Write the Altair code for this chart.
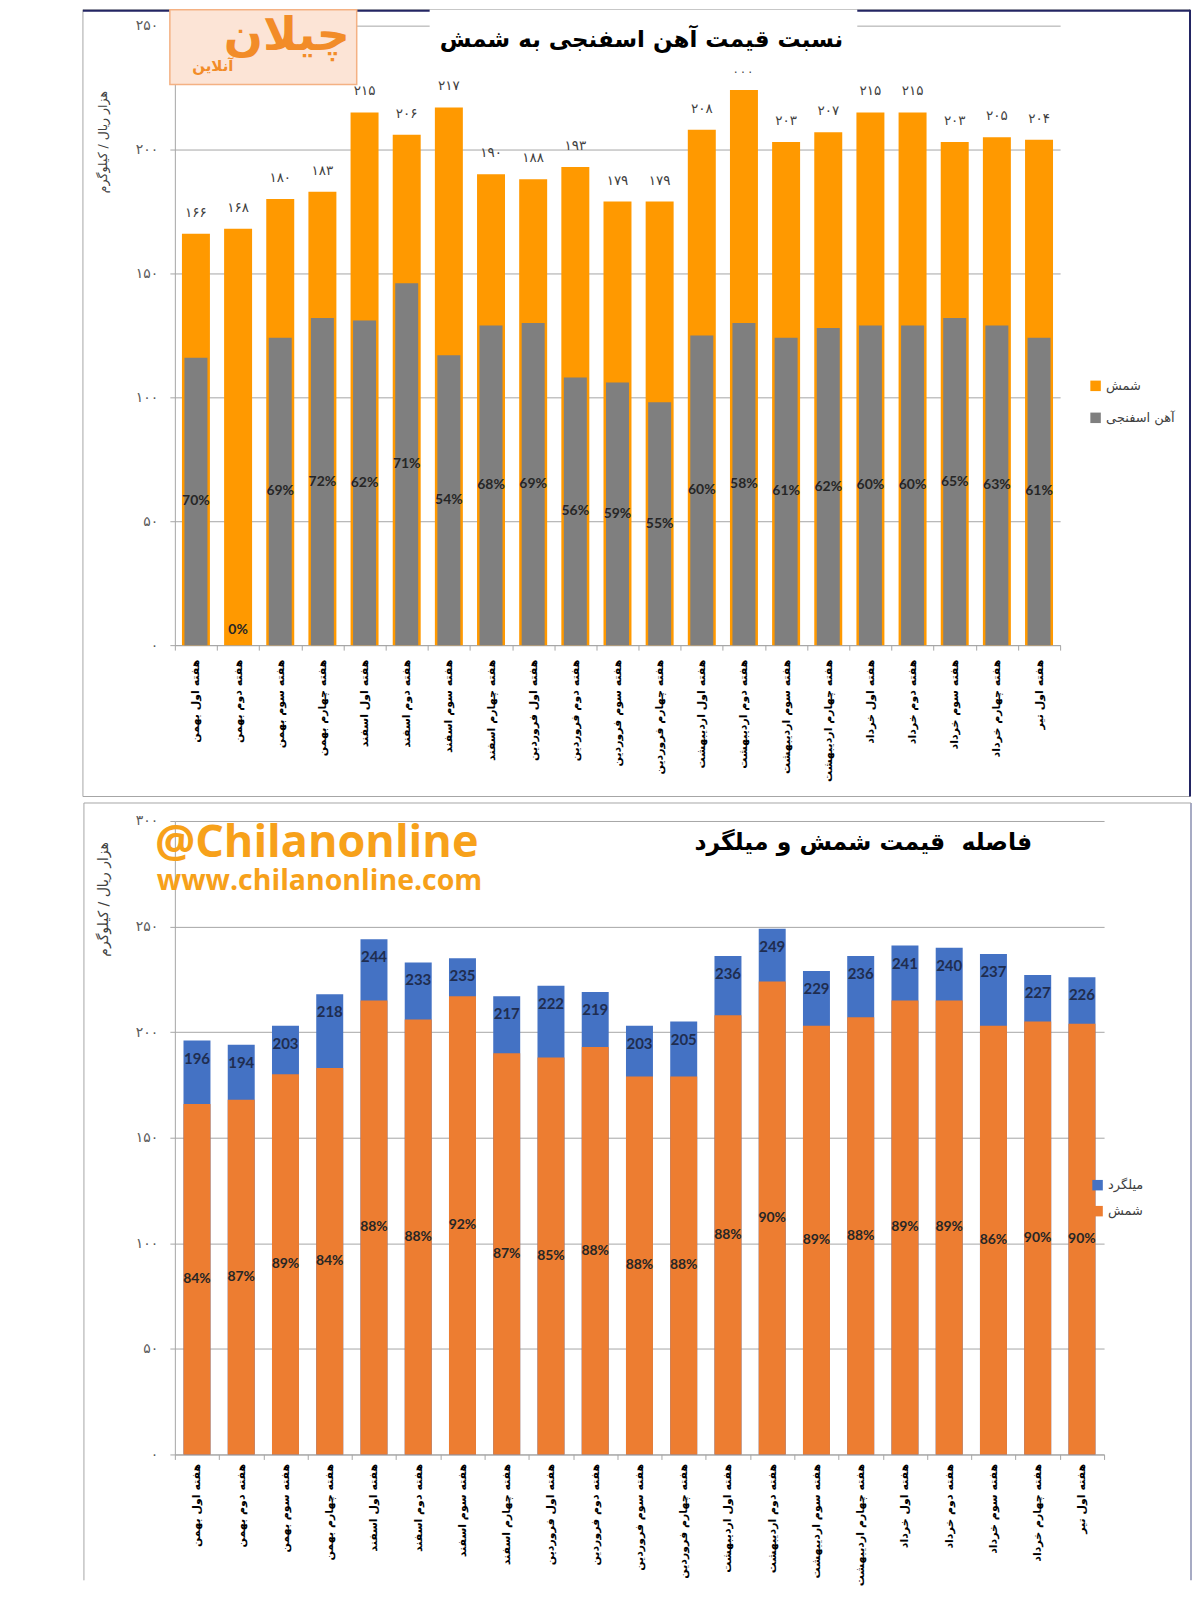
import altair as alt
import pandas as pd

weeks = [
    "هفته اول بهمن", "هفته دوم بهمن", "هفته سوم بهمن", "هفته چهارم بهمن",
    "هفته اول اسفند", "هفته دوم اسفند", "هفته سوم اسفند", "هفته چهارم اسفند",
    "هفته اول فروردین", "هفته دوم فروردین", "هفته سوم فروردین", "هفته چهارم فروردین",
    "هفته اول اردیبهشت", "هفته دوم اردیبهشت", "هفته سوم اردیبهشت", "هفته چهارم اردیبهشت",
    "هفته اول خرداد", "هفته دوم خرداد", "هفته سوم خرداد", "هفته چهارم خرداد",
    "هفته اول تیر",
]
billet = [166, 168, 180, 183, 215, 206, 217, 190, 188, 193, 179, 179, 208, 224, 203, 207, 215, 215, 203, 205, 204]
sponge = [116, 0, 124, 132, 131, 146, 117, 129, 130, 108, 106, 98, 125, 130, 124, 128, 129, 129, 132, 129, 124]
sponge_pct = [70, 0, 69, 72, 62, 71, 54, 68, 69, 56, 59, 55, 60, 58, 61, 62, 60, 60, 65, 63, 61]
rebar = [196, 194, 203, 218, 244, 233, 235, 217, 222, 219, 203, 205, 236, 249, 229, 236, 241, 240, 237, 227, 226]
billet_pct = [84, 87, 89, 84, 88, 88, 92, 87, 85, 88, 88, 88, 88, 90, 89, 88, 89, 89, 86, 90, 90]
y_ticks_top = [0, 50, 100, 150, 200, 250]
y_ticks_bottom = [0, 50, 100, 150, 200, 250, 300]

title_top = "نسبت قیمت آهن اسفنجی به شمش"
title_bottom = "فاصله\u00a0\u00a0قیمت شمش و میلگرد"
y_title = "هزار ریال / کیلوگرم"
s_billet = "شمش"
s_sponge = "آهن اسفنجی"
s_rebar = "میلگرد"

FA = str.maketrans("0123456789", "۰۱۲۳۴۵۶۷۸۹")


def fa(v):
    return str(v).translate(FA)


def fa_expr(ticks):
    e = ""
    for t in ticks:
        e += f"datum.value == {t} ? '{fa(t)}' : "
    return e + "datum.label"


top_df = pd.DataFrame({
    "week": weeks, "billet": billet, "sponge": sponge,
    "total_lab": [fa(v) for v in billet],
    "pct_lab": [f"{p}%" for p in sponge_pct],
})
bot_df = pd.DataFrame({
    "week": weeks, "rebar": rebar, "billet": billet,
    "total_lab": [str(v) for v in rebar],
    "pct_lab": [f"{p}%" for p in billet_pct],
})
one = pd.DataFrame({"a": [0]})

FA_FONT = "DejaVu Sans"
LAT_FONT = "Lato"
GRID = "#A6A6A6"


def x_enc(pad):
    return alt.X(
        "week:N", sort=weeks,
        scale=alt.Scale(paddingInner=0, paddingOuter=0),
        axis=alt.Axis(
            title=None, labelAngle=270, labelFont=FA_FONT, labelFontWeight="bold",
            labelFontSize=11, labelColor="#000000", labelPadding=pad, tickSize=5,
            tickBand="extent", domainColor=GRID, tickColor=GRID, grid=False, labelLimit=250,
        ),
    )


def y_enc(field, domain, ticks, tsize, tx, ty):
    return alt.Y(
        field, scale=alt.Scale(domain=domain, nice=False),
        axis=alt.Axis(
            values=ticks, title=y_title, titleFont=FA_FONT, titleFontSize=tsize,
            titleFontWeight="normal", titleColor="#404040", titleAngle=270,
            titleX=tx, titleY=ty, titleAlign="center", titleBaseline="middle",
            labelExpr=fa_expr(ticks), labelFont=FA_FONT, labelFontSize=14,
            labelColor="#595959", labelPadding=12, tickSize=5, tickColor=GRID,
            domainColor=GRID, gridColor=GRID,
        ),
    )


# ---------------- top panel ----------------
def yt(field):
    return y_enc(field, [0, 250], y_ticks_top, 12.5, -72, 116)


top_scale = alt.Scale(domain=[s_billet, s_sponge], range=["#FF9900", "#7F7F7F"])
top_legend = alt.Legend(
    title=None, orient="none", legendX=915, legendY=354, symbolType="square",
    symbolSize=110, labelFont=FA_FONT, labelFontSize=13, labelColor="#404040",
    rowPadding=18, symbolStrokeWidth=0,
)

t_base = alt.Chart(top_df)
t_orange = t_base.transform_calculate(series=f"'{s_billet}'").mark_bar(width=28).encode(
    x=x_enc(9), y=yt("billet:Q"),
    color=alt.Color("series:N", scale=top_scale, legend=top_legend),
)
t_gray = t_base.transform_calculate(series=f"'{s_sponge}'").mark_bar(width=23).encode(
    x=x_enc(9), y=yt("sponge:Q"),
    color=alt.Color("series:N", scale=top_scale, legend=top_legend),
)
t_tot = t_base.mark_text(dy=-21, font=FA_FONT, fontSize=13.5, color="#404040", baseline="middle").encode(
    x=x_enc(9), y=yt("billet:Q"), text="total_lab:N"
)
t_pct = t_base.transform_calculate(py="datum.sponge / 2 < 6 ? 6 : datum.sponge / 2").mark_text(
    font=LAT_FONT, fontSize=14, fontWeight="bold", color="#262626", baseline="middle"
).encode(x=x_enc(9), y=yt("py:Q"), text="pct_lab:N")

t_panel = alt.Chart(one).mark_rect(fillOpacity=0, stroke="#A6A6A6", strokeWidth=1).encode(
    x=alt.value(-92), x2=alt.value(1016), y=alt.value(-16), y2=alt.value(771.5)
)
t_navy1 = alt.Chart(one).mark_rule(color="#232563", strokeWidth=2).encode(
    x=alt.value(-92), x2=alt.value(255), y=alt.value(-15)
)
t_navy2 = alt.Chart(one).mark_rule(color="#232563", strokeWidth=2).encode(
    x=alt.value(683), x2=alt.value(1016), y=alt.value(-15)
)
t_navy3 = alt.Chart(one).mark_rule(color="#232563", strokeWidth=2).encode(
    x=alt.value(1016), y=alt.value(-16), y2=alt.value(771.5)
)
t_tbox = alt.Chart(one).mark_rect(fill="white").encode(
    x=alt.value(255), x2=alt.value(683), y=alt.value(-16), y2=alt.value(46)
)
t_title = alt.Chart(one).mark_text(
    text=title_top, font=FA_FONT, fontSize=23, fontWeight="bold", color="#000000",
    align="center", baseline="middle",
).encode(x=alt.value(467), y=alt.value(14))
t_logo = alt.Chart(one).mark_rect(fill="#FCE4D6", stroke="#F4B183", strokeWidth=1.5).encode(
    x=alt.value(-5), x2=alt.value(182), y=alt.value(-16), y2=alt.value(59)
)
t_logo1 = alt.Chart(one).mark_text(
    text="چیلان", font=FA_FONT, fontSize=46, fontWeight="bold", color="#F28C28",
    align="center", baseline="middle",
).encode(x=alt.value(112), y=alt.value(10))
t_logo2 = alt.Chart(one).mark_text(
    text="آنلاین", font=FA_FONT, fontSize=15, fontWeight="bold", color="#F28C28",
    align="center", baseline="middle",
).encode(x=alt.value(38), y=alt.value(40))

top = alt.layer(
    t_panel, t_orange, t_gray, t_tot, t_pct, t_tbox, t_title, t_navy1, t_navy2, t_navy3,
    t_logo, t_logo1, t_logo2,
).properties(width=886, height=620)

# ---------------- bottom panel ----------------
def yb(field):
    return y_enc(field, [0, 300], y_ticks_bottom, 14, -71, 78)


bot_scale = alt.Scale(domain=[s_rebar, s_billet], range=["#4472C4", "#ED7D31"])
bot_legend = alt.Legend(
    title=None, orient="none", legendX=917, legendY=358, symbolType="square",
    symbolSize=110, labelFont=FA_FONT, labelFontSize=13, labelColor="#404040",
    rowPadding=12, symbolStrokeWidth=0,
)

b_base = alt.Chart(bot_df)
b_blue = b_base.transform_calculate(series=f"'{s_rebar}'").mark_bar(width=27).encode(
    x=x_enc(4), y=yb("rebar:Q"),
    color=alt.Color("series:N", scale=bot_scale, legend=bot_legend),
)
b_orange = b_base.transform_calculate(series=f"'{s_billet}'").mark_bar(width=27).encode(
    x=x_enc(4), y=yb("billet:Q"),
    color=alt.Color("series:N", scale=bot_scale, legend=bot_legend),
)
b_tot = b_base.mark_text(dy=18, font=LAT_FONT, fontSize=15, fontWeight="bold", color="#1F2D50", baseline="middle").encode(
    x=x_enc(4), y=yb("rebar:Q"), text="total_lab:N"
)
b_pct = b_base.transform_calculate(py="datum.billet / 2").mark_text(
    font=LAT_FONT, fontSize=14, fontWeight="bold", color="#262626", baseline="middle"
).encode(x=x_enc(4), y=yb("py:Q"), text="pct_lab:N")

b_left = alt.Chart(one).mark_rule(color="#A6A6A6", strokeWidth=1).encode(
    x=alt.value(-91), y=alt.value(-18), y2=alt.value(760)
)
b_right = alt.Chart(one).mark_rule(color="#8A8FB0", strokeWidth=1.5).encode(
    x=alt.value(1017), y=alt.value(-18), y2=alt.value(760)
)
b_topl = alt.Chart(one).mark_rule(color="#A6A6A6", strokeWidth=1).encode(
    x=alt.value(-91), x2=alt.value(1017), y=alt.value(-18)
)
b_title = alt.Chart(one).mark_text(
    text=title_bottom, font=FA_FONT, fontSize=23.5, fontWeight="bold", color="#000000",
    align="center", baseline="middle",
).encode(x=alt.value(689), y=alt.value(22))
b_wm1 = alt.Chart(one).mark_text(
    text="@Chilanonline", font="Open Sans", fontSize=45, fontWeight="bold", color="#F7A11A",
    align="left", baseline="middle",
).encode(x=alt.value(-20), y=alt.value(22))
b_wm2 = alt.Chart(one).mark_text(
    text="www.chilanonline.com", font="Open Sans", fontSize=28.5, fontWeight="bold", color="#F7A11A",
    align="left", baseline="middle",
).encode(x=alt.value(-18), y=alt.value(60))

bottom = alt.layer(
    b_left, b_right, b_topl, b_blue, b_orange, b_tot, b_pct, b_title, b_wm1, b_wm2,
).properties(width=930, height=634)

chart = (
    alt.vconcat(top, bottom, spacing=4)
    .resolve_scale(color="independent")
    .properties(padding={"left": 74, "top": 0, "right": 0, "bottom": 0})
    .configure_view(stroke=None)
)

chart.save("out.html", embed_options={"renderer": "svg", "actions": False})
